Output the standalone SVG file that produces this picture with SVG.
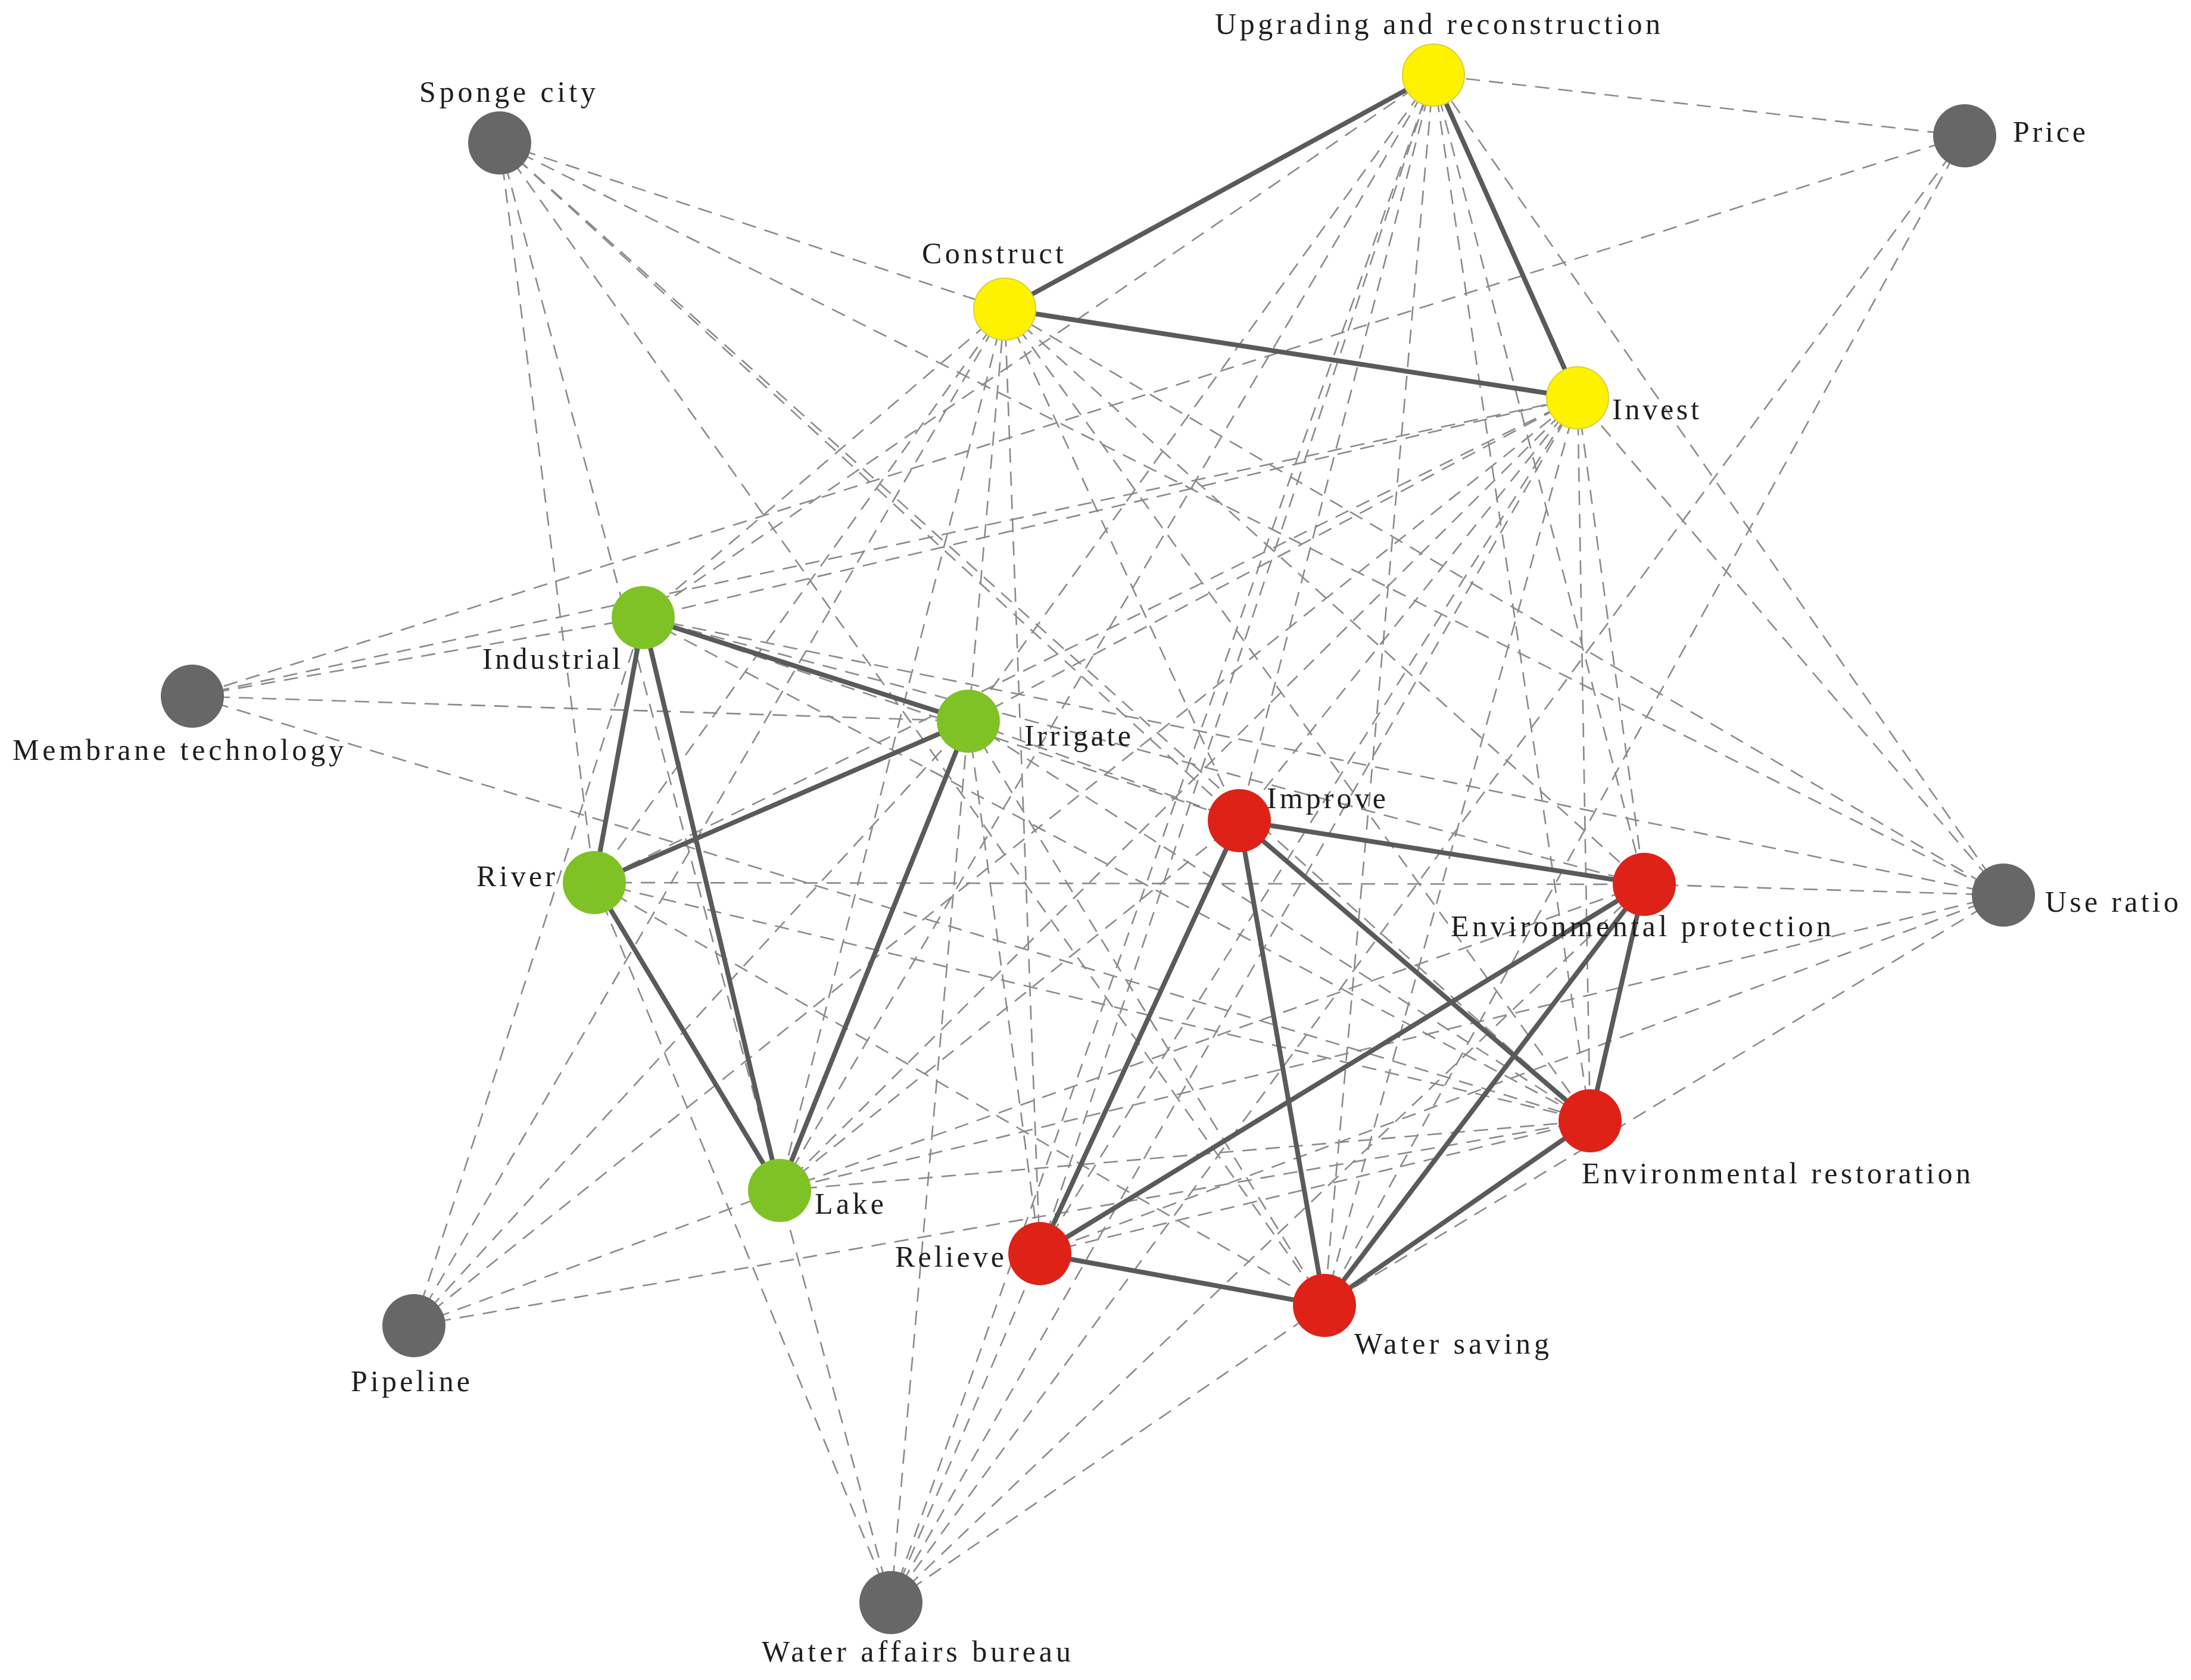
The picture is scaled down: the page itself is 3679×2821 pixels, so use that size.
<svg xmlns="http://www.w3.org/2000/svg" width="3679" height="2821" viewBox="0 0 3679 2821">
<style>
.d{stroke:#8a8a8a;stroke-width:2.6;stroke-dasharray:24 15;fill:none}
.s{stroke:#5a5a5a;stroke-width:8;stroke-linecap:round;fill:none}
.gr{fill:#676767}
.ye{fill:#fff200;stroke:#d8cf40;stroke-width:2}
.gn{fill:#7fc226}
.rd{fill:#de2218}
text{font-family:"Liberation Serif","Times New Roman",serif;font-size:50px;fill:#1e1e1e}
</style>
<rect width="3679" height="2821" fill="#ffffff"/>
<g id="connectors">
<g id="dashed">
<line class="d" x1="839" y1="240" x2="1687" y2="519"/>
<line class="d" x1="839" y1="240" x2="3364" y2="1503"/>
<line class="d" x1="839" y1="240" x2="2081" y2="1378"/>
<line class="d" x1="839" y1="240" x2="2670" y2="1882"/>
<line class="d" x1="839" y1="240" x2="2224" y2="2192"/>
<line class="d" x1="839" y1="240" x2="998" y2="1482"/>
<line class="d" x1="839" y1="240" x2="1309" y2="1999"/>
<line class="d" x1="3299" y1="228" x2="2407" y2="126"/>
<line class="d" x1="3299" y1="228" x2="323" y2="1169"/>
<line class="d" x1="3299" y1="228" x2="1496" y2="2691"/>
<line class="d" x1="3299" y1="228" x2="2224" y2="2192"/>
<line class="d" x1="323" y1="1169" x2="2649" y2="668"/>
<line class="d" x1="323" y1="1169" x2="1080" y2="1037"/>
<line class="d" x1="323" y1="1169" x2="1626" y2="1211"/>
<line class="d" x1="323" y1="1169" x2="2670" y2="1882"/>
<line class="d" x1="3364" y1="1503" x2="2649" y2="668"/>
<line class="d" x1="3364" y1="1503" x2="2407" y2="126"/>
<line class="d" x1="3364" y1="1503" x2="1687" y2="519"/>
<line class="d" x1="3364" y1="1503" x2="1080" y2="1037"/>
<line class="d" x1="3364" y1="1503" x2="2761" y2="1485"/>
<line class="d" x1="3364" y1="1503" x2="1309" y2="1999"/>
<line class="d" x1="3364" y1="1503" x2="1746" y2="2105"/>
<line class="d" x1="3364" y1="1503" x2="2224" y2="2192"/>
<line class="d" x1="695" y1="2226" x2="1080" y2="1037"/>
<line class="d" x1="695" y1="2226" x2="1687" y2="519"/>
<line class="d" x1="695" y1="2226" x2="1626" y2="1211"/>
<line class="d" x1="695" y1="2226" x2="2649" y2="668"/>
<line class="d" x1="695" y1="2226" x2="1309" y2="1999"/>
<line class="d" x1="695" y1="2226" x2="2670" y2="1882"/>
<line class="d" x1="1496" y1="2691" x2="998" y2="1482"/>
<line class="d" x1="1496" y1="2691" x2="1309" y2="1999"/>
<line class="d" x1="1496" y1="2691" x2="1687" y2="519"/>
<line class="d" x1="1496" y1="2691" x2="2407" y2="126"/>
<line class="d" x1="1496" y1="2691" x2="1746" y2="2105"/>
<line class="d" x1="1496" y1="2691" x2="2649" y2="668"/>
<line class="d" x1="1496" y1="2691" x2="2761" y2="1485"/>
<line class="d" x1="1496" y1="2691" x2="2224" y2="2192"/>
<line class="d" x1="998" y1="1482" x2="2761" y2="1485"/>
<line class="d" x1="1687" y1="519" x2="1080" y2="1037"/>
<line class="d" x1="1687" y1="519" x2="998" y2="1482"/>
<line class="d" x1="1687" y1="519" x2="1309" y2="1999"/>
<line class="d" x1="2407" y1="126" x2="1080" y2="1037"/>
<line class="d" x1="2407" y1="126" x2="1626" y2="1211"/>
<line class="d" x1="2407" y1="126" x2="1309" y2="1999"/>
<line class="d" x1="2649" y1="668" x2="1080" y2="1037"/>
<line class="d" x1="2649" y1="668" x2="998" y2="1482"/>
<line class="d" x1="2649" y1="668" x2="1309" y2="1999"/>
<line class="d" x1="2649" y1="668" x2="1626" y2="1211"/>
<line class="d" x1="1687" y1="519" x2="1746" y2="2105"/>
<line class="d" x1="1687" y1="519" x2="2081" y2="1378"/>
<line class="d" x1="1687" y1="519" x2="2761" y2="1485"/>
<line class="d" x1="1687" y1="519" x2="2670" y2="1882"/>
<line class="d" x1="2407" y1="126" x2="1746" y2="2105"/>
<line class="d" x1="2407" y1="126" x2="2081" y2="1378"/>
<line class="d" x1="2407" y1="126" x2="2761" y2="1485"/>
<line class="d" x1="2407" y1="126" x2="2670" y2="1882"/>
<line class="d" x1="2407" y1="126" x2="2224" y2="2192"/>
<line class="d" x1="2649" y1="668" x2="2081" y2="1378"/>
<line class="d" x1="2649" y1="668" x2="2761" y2="1485"/>
<line class="d" x1="2649" y1="668" x2="2670" y2="1882"/>
<line class="d" x1="2649" y1="668" x2="1746" y2="2105"/>
<line class="d" x1="2649" y1="668" x2="2224" y2="2192"/>
<line class="d" x1="1080" y1="1037" x2="2081" y2="1378"/>
<line class="d" x1="1080" y1="1037" x2="2761" y2="1485"/>
<line class="d" x1="1080" y1="1037" x2="2670" y2="1882"/>
<line class="d" x1="1626" y1="1211" x2="2081" y2="1378"/>
<line class="d" x1="1626" y1="1211" x2="2670" y2="1882"/>
<line class="d" x1="1626" y1="1211" x2="1746" y2="2105"/>
<line class="d" x1="1626" y1="1211" x2="2224" y2="2192"/>
<line class="d" x1="998" y1="1482" x2="2670" y2="1882"/>
<line class="d" x1="998" y1="1482" x2="2224" y2="2192"/>
<line class="d" x1="1309" y1="1999" x2="2761" y2="1485"/>
<line class="d" x1="1309" y1="1999" x2="2670" y2="1882"/>
<line class="d" x1="1309" y1="1999" x2="2081" y2="1378"/>
<line class="d" x1="1746" y1="2105" x2="2670" y2="1882"/>
</g>
<g id="solid">
<line class="s" x1="1687" y1="519" x2="2407" y2="126"/>
<line class="s" x1="1687" y1="519" x2="2649" y2="668"/>
<line class="s" x1="2407" y1="126" x2="2649" y2="668"/>
<line class="s" x1="1080" y1="1037" x2="1626" y2="1211"/>
<line class="s" x1="1080" y1="1037" x2="998" y2="1482"/>
<line class="s" x1="1080" y1="1037" x2="1309" y2="1999"/>
<line class="s" x1="998" y1="1482" x2="1626" y2="1211"/>
<line class="s" x1="998" y1="1482" x2="1309" y2="1999"/>
<line class="s" x1="1626" y1="1211" x2="1309" y2="1999"/>
<line class="s" x1="2081" y1="1378" x2="2761" y2="1485"/>
<line class="s" x1="2081" y1="1378" x2="2670" y2="1882"/>
<line class="s" x1="2081" y1="1378" x2="1746" y2="2105"/>
<line class="s" x1="2081" y1="1378" x2="2224" y2="2192"/>
<line class="s" x1="2761" y1="1485" x2="2670" y2="1882"/>
<line class="s" x1="2761" y1="1485" x2="1746" y2="2105"/>
<line class="s" x1="2761" y1="1485" x2="2224" y2="2192"/>
<line class="s" x1="2670" y1="1882" x2="2224" y2="2192"/>
<line class="s" x1="1746" y1="2105" x2="2224" y2="2192"/>
</g>
</g>
<g id="node-sponge-city"><circle class="gr" cx="839" cy="240" r="53"/><text x="704" y="171" textLength="296" lengthAdjust="spacing">Sponge city</text></g>
<g id="node-upgrading"><circle class="ye" cx="2407" cy="126" r="52"/><text x="2040" y="57" textLength="748" lengthAdjust="spacing">Upgrading and reconstruction</text></g>
<g id="node-price"><circle class="gr" cx="3299" cy="228" r="53"/><text x="3380" y="238" textLength="122" lengthAdjust="spacing">Price</text></g>
<g id="node-construct"><circle class="ye" cx="1687" cy="519" r="52"/><text x="1548" y="442" textLength="238" lengthAdjust="spacing">Construct</text></g>
<g id="node-invest"><circle class="ye" cx="2649" cy="668" r="52"/><text x="2707" y="704" textLength="146" lengthAdjust="spacing">Invest</text></g>
<g id="node-industrial"><circle class="gn" cx="1080" cy="1037" r="53"/><text x="810" y="1123" textLength="232" lengthAdjust="spacing">Industrial</text></g>
<g id="node-membrane-technology"><circle class="gr" cx="323" cy="1169" r="53"/><text x="21" y="1276" textLength="556" lengthAdjust="spacing">Membrane technology</text></g>
<g id="node-irrigate"><circle class="gn" cx="1626" cy="1211" r="53"/><text x="1720" y="1252" textLength="179" lengthAdjust="spacing">Irrigate</text></g>
<g id="node-improve"><circle class="rd" cx="2081" cy="1378" r="53"/><text x="2127" y="1357" textLength="200" lengthAdjust="spacing">Improve</text></g>
<g id="node-environmental-protection"><circle class="rd" cx="2761" cy="1485" r="53"/><text x="2436" y="1572" textLength="639" lengthAdjust="spacing">Environmental protection</text></g>
<g id="node-use-ratio"><circle class="gr" cx="3364" cy="1503" r="53"/><text x="3434" y="1531" textLength="224" lengthAdjust="spacing">Use ratio</text></g>
<g id="node-river"><circle class="gn" cx="998" cy="1482" r="53"/><text x="800" y="1488" textLength="132" lengthAdjust="spacing">River</text></g>
<g id="node-environmental-restoration"><circle class="rd" cx="2670" cy="1882" r="53"/><text x="2656" y="1987" textLength="653" lengthAdjust="spacing">Environmental restoration</text></g>
<g id="node-lake"><circle class="gn" cx="1309" cy="1999" r="53"/><text x="1368" y="2038" textLength="116" lengthAdjust="spacing">Lake</text></g>
<g id="node-relieve"><circle class="rd" cx="1746" cy="2105" r="53"/><text x="1503" y="2127" textLength="183" lengthAdjust="spacing">Relieve</text></g>
<g id="node-water-saving"><circle class="rd" cx="2224" cy="2192" r="53"/><text x="2274" y="2273" textLength="327" lengthAdjust="spacing">Water saving</text></g>
<g id="node-pipeline"><circle class="gr" cx="695" cy="2226" r="53"/><text x="589" y="2336" textLength="200" lengthAdjust="spacing">Pipeline</text></g>
<g id="node-water-affairs-bureau"><circle class="gr" cx="1496" cy="2691" r="53"/><text x="1279" y="2790" textLength="519" lengthAdjust="spacing">Water affairs bureau</text></g>
</svg>
